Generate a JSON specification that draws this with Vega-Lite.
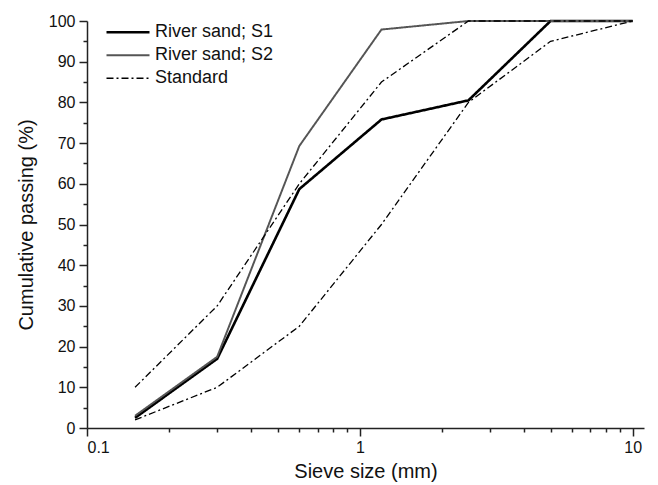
{
  "$schema": "https://vega.github.io/schema/vega-lite/v6.json",
  "width": 557,
  "height": 407,
  "autosize": {"type": "none"},
  "padding": {"left": 87, "top": 21, "right": 14, "bottom": 57},
  "background": "white",
  "config": {
    "view": {"stroke": null},
    "font": "Liberation Sans",
    "axis": {"labelFont": "Liberation Sans", "titleFont": "Liberation Sans", "labelColor": "#111", "titleColor": "#111", "domainColor": "#222", "tickColor": "#222", "domainWidth": 1.5, "tickWidth": 1.5, "grid": false}
  },
  "data": {
    "values": [
      {"size": 0.15, "pass": 2.5, "series": "River sand; S1", "line": "S1"},
      {"size": 0.3, "pass": 17, "series": "River sand; S1", "line": "S1"},
      {"size": 0.6, "pass": 58.7, "series": "River sand; S1", "line": "S1"},
      {"size": 1.2, "pass": 75.8, "series": "River sand; S1", "line": "S1"},
      {"size": 2.5, "pass": 80.5, "series": "River sand; S1", "line": "S1"},
      {"size": 5, "pass": 100, "series": "River sand; S1", "line": "S1"},
      {"size": 10, "pass": 100, "series": "River sand; S1", "line": "S1"},
      {"size": 0.15, "pass": 3, "series": "River sand; S2", "line": "S2"},
      {"size": 0.3, "pass": 17.5, "series": "River sand; S2", "line": "S2"},
      {"size": 0.6, "pass": 69.3, "series": "River sand; S2", "line": "S2"},
      {"size": 1.2, "pass": 97.9, "series": "River sand; S2", "line": "S2"},
      {"size": 2.5, "pass": 100, "series": "River sand; S2", "line": "S2"},
      {"size": 5, "pass": 100, "series": "River sand; S2", "line": "S2"},
      {"size": 10, "pass": 100, "series": "River sand; S2", "line": "S2"},
      {"size": 0.15, "pass": 10, "series": "Standard", "line": "upper"},
      {"size": 0.3, "pass": 30, "series": "Standard", "line": "upper"},
      {"size": 0.6, "pass": 60, "series": "Standard", "line": "upper"},
      {"size": 1.2, "pass": 85, "series": "Standard", "line": "upper"},
      {"size": 2.5, "pass": 100, "series": "Standard", "line": "upper"},
      {"size": 5, "pass": 100, "series": "Standard", "line": "upper"},
      {"size": 10, "pass": 100, "series": "Standard", "line": "upper"},
      {"size": 0.15, "pass": 2, "series": "Standard", "line": "lower"},
      {"size": 0.3, "pass": 10, "series": "Standard", "line": "lower"},
      {"size": 0.6, "pass": 25, "series": "Standard", "line": "lower"},
      {"size": 1.2, "pass": 50, "series": "Standard", "line": "lower"},
      {"size": 2.5, "pass": 80, "series": "Standard", "line": "lower"},
      {"size": 5, "pass": 95, "series": "Standard", "line": "lower"},
      {"size": 10, "pass": 100, "series": "Standard", "line": "lower"}
    ]
  },
  "resolve": {"axis": {"x": "independent", "y": "independent"}},
  "layer": [
    {
      "mark": {"type": "point", "opacity": 0},
      "encoding": {
        "x": {"field": "size", "type": "quantitative", "scale": {"type": "log", "domain": [0.1, 11], "nice": false},
          "axis": {"orient": "bottom", "values": [0.2,0.3,0.4,0.5,0.6,0.7,0.8,0.9,2,3,4,5,6,7,8,9], "labels": false, "domain": false, "tickSize": 4, "title": null}},
        "y": {"field": "pass", "type": "quantitative", "scale": {"domain": [0, 100], "nice": false, "zero": false},
          "axis": {"orient": "left", "values": [5,15,25,35,45,55,65,75,85,95], "labels": false, "domain": false, "tickSize": 4, "title": null}}
      }
    },
    {
      "mark": {"type": "line"},
      "encoding": {
        "x": {"field": "size", "type": "quantitative", "scale": {"type": "log", "domain": [0.1, 11], "nice": false},
          "axis": {"orient": "bottom", "values": [0.1, 1, 10], "format": "~g", "tickSize": 8, "labelFontSize": 16, "labelPadding": 3, "title": "Sieve size (mm)", "titleFontSize": 20, "titleFontWeight": "normal", "titlePadding": 6}},
        "y": {"field": "pass", "type": "quantitative", "scale": {"domain": [0, 100], "nice": false, "zero": false},
          "axis": {"orient": "left", "values": [0,10,20,30,40,50,60,70,80,90,100], "tickSize": 8, "labelFontSize": 16, "labelPadding": 4, "title": "Cumulative passing (%)", "titleFontSize": 20, "titleFontWeight": "normal", "titlePadding": 12}},
        "detail": {"field": "line"},
        "color": {"field": "series", "type": "nominal",
          "scale": {"domain": ["River sand; S1", "River sand; S2", "Standard"], "range": ["#000000", "#555555", "#000000"]},
          "legend": {"title": null, "orient": "none", "legendX": 18, "legendY": 0, "labelFontSize": 18, "labelFont": "Liberation Sans", "labelColor": "#111", "symbolSize": 1849, "symbolType": "stroke", "clipHeight": 22.5, "rowPadding": 0, "labelOffset": 4, "padding": 0}},
        "strokeWidth": {"field": "series", "type": "nominal",
          "scale": {"domain": ["River sand; S1", "River sand; S2", "Standard"], "range": [2.6, 1.3, 1]}},
        "strokeDash": {"field": "series", "type": "nominal",
          "scale": {"domain": ["River sand; S1", "River sand; S2", "Standard"], "range": [[1, 0], [1, 0], [7, 3, 2, 3]]}}
      }
    }
  ]
}
